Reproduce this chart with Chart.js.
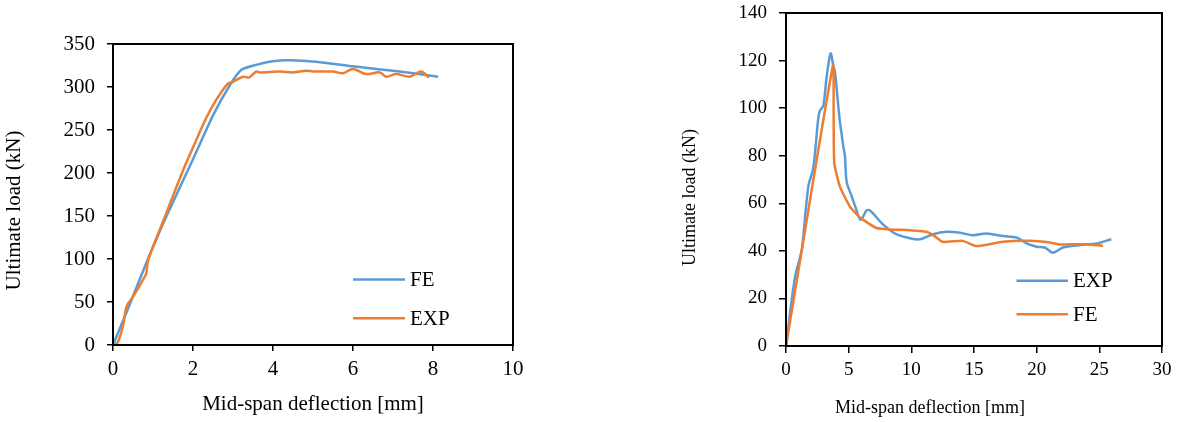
<!DOCTYPE html>
<html>
<head>
<meta charset="utf-8">
<script src="https://cdn.jsdelivr.net/npm/chart.js@4.4.1/dist/chart.umd.min.js"></script>
<style>
  html, body { margin: 0; padding: 0; background: #fff; }
  body { width: 1178px; height: 422px; position: relative; overflow: hidden; }
  .box { position: absolute; top: 0; height: 422px; }
  #box-left { left: 0; width: 560px; }
  #box-right { left: 672px; width: 506px; }
</style>
</head>
<body>
<div class="box" id="box-left"><canvas id="chart-left"></canvas></div>
<div class="box" id="box-right"><canvas id="chart-right"></canvas></div>
<script>
// ค่าที่อ่านจากภาพ: ระยะแอ่นกลางช่วง (mm) กับ แรง (kN)
const leftFeX = [0, 0.33, 0.83, 1.33, 2.0, 2.5, 2.92, 3.21, 3.6, 4.0, 4.42, 5.33, 6.0, 7.17, 8.13];
const leftFeY = [0, 37, 95, 149, 216, 267, 302, 320, 326, 330, 331, 328, 324, 318, 312];

const leftExpX = [0.05, 0.13, 0.25, 0.34, 0.5, 0.75, 0.83, 0.87, 1.0, 1.33, 1.75, 2.08, 2.33, 2.58, 2.87, 3.0,
  3.25, 3.4, 3.58, 3.67, 4.17, 4.5, 4.83, 5.0, 5.5, 5.75, 6.0, 6.33, 6.67, 6.83, 7.08, 7.42, 7.7, 7.9];
const leftExpY = [0, 4, 22, 45, 56, 76, 83, 97, 114, 153, 203, 238, 264, 285, 304, 306,
  312, 311, 318, 317, 318, 317, 319, 318, 318, 316, 321, 315, 317, 312, 315, 312, 318, 311];

const rightExpX = [0, 0.72, 1.25, 1.38, 1.78, 2.18, 2.58, 2.71, 2.98, 3.24, 3.56, 3.77, 3.91, 4.17, 4.31, 4.44,
  4.57, 4.7, 4.84, 5.24, 5.5, 5.95, 6.43, 6.7, 7.76, 8.8, 10.15, 10.8, 11.75, 12.8, 13.87, 14.93, 16.0,
  17.33, 18.4, 19.2, 20.0, 20.65, 21.3, 22.1, 23.4, 24.8, 25.96];
const rightExpY = [0, 29, 40, 46, 67, 75, 96, 99, 101, 113, 123, 118, 115, 101, 94, 89,
  84, 80, 69, 63, 59, 53, 57, 57, 51, 47, 45, 45, 47, 48, 47.6, 46.6, 47.3,
  46.2, 45.6, 43.1, 41.7, 41.4, 39.2, 41.4, 42.4, 43.1, 44.9];

const rightFeX = [0, 1.25, 3.75, 3.8, 3.85, 4.3, 5.1, 5.9, 7.23, 8.3, 9.9, 11.2, 11.75, 12.5, 14.1, 15.2,
  17.3, 19.45, 21.05, 21.8, 24.0, 25.3];
const rightFeY = [0, 40, 118, 100, 77, 67, 58.6, 54, 49.6, 49, 48.7, 48, 46.6, 43.8, 44.2, 42,
  43.8, 44.2, 43.5, 42.7, 42.8, 42.1];

const leftXTicks = [0, 10, 2];    // min, max, step
const leftYTicks = [0, 350, 50];
const rightXTicks = [0, 30, 5];
const rightYTicks = [0, 140, 20];

const X_TITLE = 'Mid-span deflection [mm]';
const Y_TITLE = 'Ultimate load (kN)';

const BLUE = '#5B9BD5';
const ORANGE = '#ED7D31';
const FONT = "'Liberation Serif', 'Times New Roman', serif";

const toPoints = (xs, ys) => xs.map((x, i) => ({ x, y: ys[i] }));

// กรอบพื้นที่กราฟ + ชื่อแกน (วางแบบ Excel ไม่ตรงกลางเป๊ะ) + legend ภายในกรอบ
const framePlugin = {
  id: 'frame',
  afterDatasetsDraw(chart, args, opts) {
    const { ctx, chartArea: a } = chart;
    const w = a.right - a.left, h = a.bottom - a.top;
    ctx.save();
    ctx.strokeStyle = '#000';
    ctx.lineWidth = 2;
    ctx.strokeRect(a.left, a.top, w, h);

    ctx.fillStyle = '#000';
    ctx.textBaseline = 'middle';
    ctx.textAlign = 'center';

    const xt = opts.xTitle;
    ctx.font = `${xt.size}px ${FONT}`;
    ctx.fillText(X_TITLE, a.left + w / 2 + xt.shift, xt.y);

    const yt = opts.yTitle;
    ctx.save();
    ctx.font = `${yt.size}px ${FONT}`;
    ctx.translate(yt.x, a.top + h / 2 + yt.shift);
    ctx.rotate(-Math.PI / 2);
    ctx.fillText(Y_TITLE, 0, 0);
    ctx.restore();

    ctx.font = `${opts.fontSize}px ${FONT}`;
    ctx.textAlign = 'left';
    opts.items.forEach((it, k) => {
      const ds = chart.data.datasets[it];
      const y = a.top + h * opts.rows[k];
      ctx.strokeStyle = ds.borderColor;
      ctx.lineWidth = 2.5;
      ctx.beginPath();
      ctx.moveTo(a.left + w * opts.x0, y);
      ctx.lineTo(a.left + w * opts.x1, y);
      ctx.stroke();
      ctx.fillText(ds.label, a.left + w * opts.x1 + 5, y + 1);
    });
    ctx.restore();
  }
};

function axis(range, o) {
  return {
    type: 'linear',
    min: range[0], max: range[1],
    ticks: { stepSize: range[2], color: '#000', padding: o.tickPad, font: { family: FONT, size: o.tickSize } },
    grid: { drawOnChartArea: false, drawTicks: true, tickLength: o.tickLen, color: '#000', lineWidth: 1.5 },
    border: { display: false },
    // ขนาดแกนตายตัว และไม่ให้ป้ายตัวเลขดันขอบกราฟ
    afterFit: s => {
      if (o.width) s.width = o.width;
      if (o.height) s.height = o.height;
      s.paddingTop = 0; s.paddingBottom = 0; s.paddingLeft = 0; s.paddingRight = 0;
    }
  };
}

function makeChart(id, datasets, xr, yr, o) {
  return new Chart(document.getElementById(id), {
    type: 'scatter',
    data: { datasets },
    options: {
      responsive: true, maintainAspectRatio: false, animation: false,
      showLine: true,
      layout: { padding: o.padding },
      elements: { point: { radius: 0 }, line: { borderWidth: 2.5, fill: false } },
      plugins: { legend: { display: false }, tooltip: { enabled: false }, frame: o.legend },
      scales: { x: axis(xr, o.x), y: axis(yr, o.y) }
    },
    plugins: [framePlugin]
  });
}

makeChart('chart-left', [
  { label: 'FE', data: toPoints(leftFeX, leftFeY), borderColor: BLUE, tension: 0.2, order: 1 },
  { label: 'EXP', data: toPoints(leftExpX, leftExpY), borderColor: ORANGE, tension: 0.3, order: 0 }
], leftXTicks, leftYTicks, {
  padding: { top: 44, right: 47, left: 0, bottom: 0 },
  x: { height: 77, tickLen: 6, tickPad: 6, tickSize: 21 },
  y: { width: 113, tickLen: 6, tickPad: 12, tickSize: 21 },
  legend: {
    items: [0, 1], rows: [0.782, 0.911], x0: 0.6, x1: 0.73, fontSize: 21,
    xTitle: { shift: 0, y: 404, size: 21 },
    yTitle: { x: 14, shift: 16, size: 21 }
  }
});

makeChart('chart-right', [
  { label: 'EXP', data: toPoints(rightExpX, rightExpY), borderColor: BLUE, tension: 0.3, order: 1 },
  { label: 'FE', data: toPoints(rightFeX, rightFeY), borderColor: ORANGE, tension: 0.15, order: 0 }
], rightXTicks, rightYTicks, {
  padding: { top: 13, right: 16, left: 0, bottom: 0 },
  x: { height: 76, tickLen: 7, tickPad: 6, tickSize: 19 },
  y: { width: 114, tickLen: 7, tickPad: 12, tickSize: 19 },
  legend: {
    items: [0, 1], rows: [0.804, 0.905], x0: 0.613, x1: 0.75, fontSize: 21,
    xTitle: { shift: -44, y: 408, size: 18 },
    yTitle: { x: 18, shift: 18, size: 18 }
  }
});
</script>
</body>
</html>
